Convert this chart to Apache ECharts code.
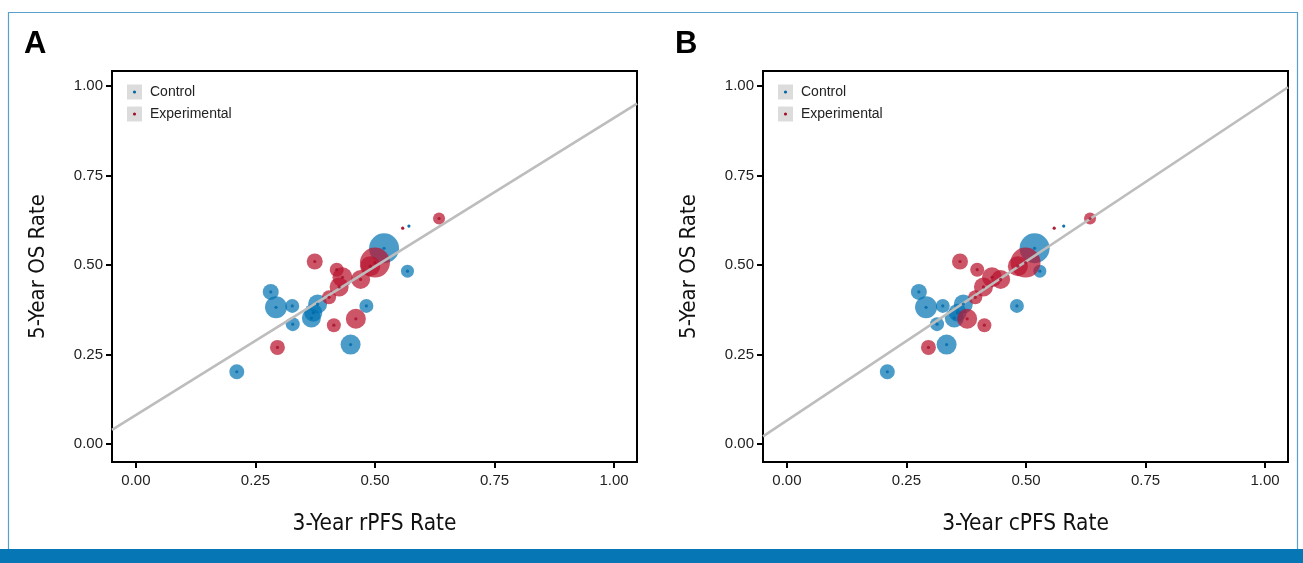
<!DOCTYPE html>
<html><head><meta charset="utf-8">
<script src="https://cdn.jsdelivr.net/npm/echarts@6/dist/echarts.min.js"></script>
<style>html,body{margin:0;padding:0;background:#fff}#c{width:1303px;height:563px}</style>
</head><body><div id="c"></div>
<script>
// ---- data ----
const tickValues = [0, 0.25, 0.5, 0.75, 1];
const controlOS   = [0.202,0.425,0.382,0.386,0.335,0.391,0.352,0.367,0.278,0.386,0.547,0.483,0.609];
const controlRPFS = [0.211,0.282,0.293,0.327,0.328,0.380,0.367,0.371,0.449,0.482,0.519,0.568,0.571];
const controlCPFS = [0.210,0.276,0.291,0.326,0.314,0.369,0.350,0.357,0.334,0.481,0.518,0.529,0.579];
const controlN    = [156,178,336,136,136,251,251,225,278,136,625,117,5];
const expOS   = [0.270,0.510,0.410,0.332,0.487,0.439,0.466,0.350,0.460,0.507,0.497,0.603,0.630];
const expRPFS = [0.296,0.374,0.404,0.414,0.420,0.425,0.432,0.460,0.470,0.500,0.490,0.558,0.634];
const expCPFS = [0.296,0.362,0.394,0.413,0.398,0.411,0.429,0.377,0.447,0.499,0.483,0.559,0.634];
const expN    = [156,178,136,136,136,251,278,278,251,625,278,5,100];
const fitA = {intercept: 0.081, slope: 0.83};
const fitB = {intercept: 0.066, slope: 0.888};
const xTitles = ['3-Year rPFS Rate', '3-Year cPFS Rate'];
const yTitle = '5-Year OS Rate';
const panelLabels = ['A', 'B'];
const legendNames = ['Control', 'Experimental'];

// ---- styling ----
const BLUE = '#0072B2', BLUE_DOT = '#0068a8';
const RED = '#B8142E', RED_DOT = '#a50f2a';
const XMIN = -0.05, XMAX = 1.048, YMIN = -0.05, YMAX = 1.042;
const gridLefts = [112, 763];
const TITLE_FONT = "'Liberation Sans Narrow', 'DejaVu Sans Condensed', sans-serif";

const pairs = (xs, ys) => xs.map((x, i) => [x, ys[i]]);
const sizeFn = n => 1.2 * Math.sqrt(n);

const grids = [], xAxes = [], yAxes = [], series = [], graphics = [];
const panels = [
  {cx: controlRPFS, ex: expRPFS, fit: fitA},
  {cx: controlCPFS, ex: expCPFS, fit: fitB}
];
panels.forEach((p, k) => {
  grids.push({left: gridLefts[k], top: 71, width: 525, height: 391, show: true,
    borderColor: '#000', borderWidth: 2, backgroundColor: 'transparent'});
  xAxes.push({type: 'value', gridIndex: k, min: XMIN, max: XMAX,
    name: xTitles[k], nameLocation: 'middle', nameGap: 51,
    nameTextStyle: {fontFamily: TITLE_FONT, fontSize: 22.5, color: '#111'},
    axisLine: {show: true, onZero: false, lineStyle: {color: '#000', width: 2}},
    axisTick: {show: true, customValues: tickValues, length: 6, lineStyle: {color: '#000', width: 2}},
    axisLabel: {customValues: tickValues, formatter: v => v.toFixed(2), margin: 11,
      fontFamily: 'Liberation Sans', fontSize: 15, color: '#222'},
    splitLine: {show: false}});
  yAxes.push({type: 'value', gridIndex: k, min: YMIN, max: YMAX,
    name: yTitle, nameLocation: 'middle', nameGap: 63,
    nameTextStyle: {fontFamily: TITLE_FONT, fontSize: 22, color: '#111'},
    axisLine: {show: true, onZero: false, lineStyle: {color: '#000', width: 2}},
    axisTick: {show: true, customValues: tickValues, length: 6, lineStyle: {color: '#000', width: 2}},
    axisLabel: {customValues: tickValues, formatter: v => v.toFixed(2), margin: 9,
      fontFamily: 'Liberation Sans', fontSize: 15, color: '#222'},
    splitLine: {show: false}});
  const cData = pairs(p.cx, controlOS).map((d, i) => ({value: d, n: controlN[i]}));
  const eData = pairs(p.ex, expOS).map((d, i) => ({value: d, n: expN[i]}));
  series.push({type: 'scatter', xAxisIndex: k, yAxisIndex: k, data: cData, z: 2,
    symbolSize: (v, prm) => sizeFn(prm.data.n),
    itemStyle: {color: BLUE, opacity: 0.7}});
  series.push({type: 'scatter', xAxisIndex: k, yAxisIndex: k, data: eData, z: 3,
    symbolSize: (v, prm) => sizeFn(prm.data.n),
    itemStyle: {color: RED, opacity: 0.72}});
  series.push({type: 'line', xAxisIndex: k, yAxisIndex: k, z: 4, symbol: 'none', silent: true,
    data: [XMIN, XMAX].map(x => [x, p.fit.intercept + p.fit.slope * x]),
    lineStyle: {color: '#bdbdbd', width: 2.6}});
  series.push({type: 'scatter', xAxisIndex: k, yAxisIndex: k, data: pairs(p.cx, controlOS), z: 5,
    symbolSize: 3.2, itemStyle: {color: BLUE_DOT}});
  series.push({type: 'scatter', xAxisIndex: k, yAxisIndex: k, data: pairs(p.ex, expOS), z: 5,
    symbolSize: 3.2, itemStyle: {color: RED_DOT}});
  // panel letter
  graphics.push({type: 'text', x: gridLefts[k] - 88, y: 44,
    style: {text: panelLabels[k], fontFamily: 'Liberation Sans', fontWeight: 'bold', fontSize: 31,
      fill: '#000', verticalAlign: 'middle', align: 'left'}});
  // legend
  [BLUE_DOT, RED_DOT].forEach((col, j) => {
    const cy = 92 + 22 * j;
    graphics.push({type: 'rect', shape: {x: gridLefts[k] + 15, y: cy - 7.5, width: 15, height: 15},
      style: {fill: '#dcdcdc'}});
    graphics.push({type: 'circle', shape: {cx: gridLefts[k] + 22.5, cy: cy, r: 1.6}, style: {fill: col}});
    graphics.push({type: 'text', x: gridLefts[k] + 38, y: cy,
      style: {text: legendNames[j], fontFamily: 'Liberation Sans', fontSize: 14, fill: '#222',
        verticalAlign: 'middle', align: 'left'}});
  });
});
// frame and bottom bar
graphics.push({type: 'rect', z: -1, shape: {x: 8.5, y: 12.5, width: 1289, height: 560},
  style: {fill: 'none', stroke: '#5aa0cc', lineWidth: 1.2}});
graphics.push({type: 'rect', shape: {x: 0, y: 549, width: 1303, height: 14}, style: {fill: '#0677b4'}});

const chart = echarts.init(document.getElementById('c'), null, {renderer: 'canvas'});
chart.setOption({animation: false, backgroundColor: '#fff', grid: grids, xAxis: xAxes, yAxis: yAxes,
  series: series, graphic: graphics});
</script></body></html>
